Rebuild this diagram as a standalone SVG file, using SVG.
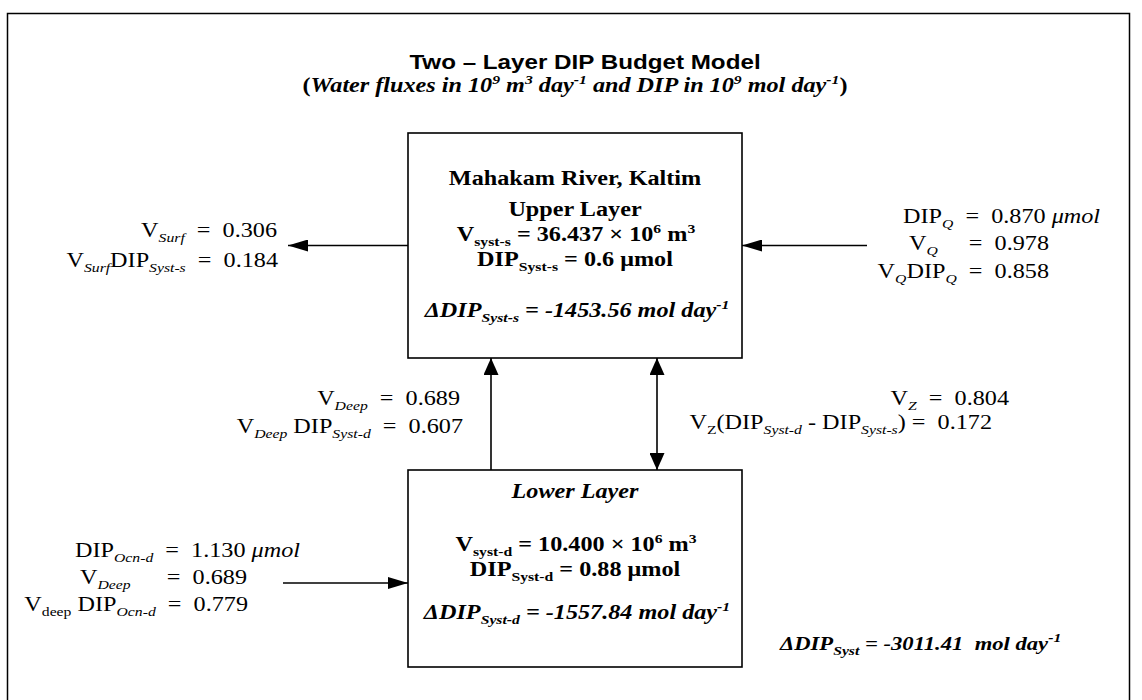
<svg xmlns="http://www.w3.org/2000/svg" width="1142" height="700" viewBox="0 0 1142 700">
<style>
text{font-family:"Liberation Serif","Times New Roman",serif;font-size:20px;fill:#000;white-space:pre}
.t{font-family:"Liberation Sans",Arial,sans-serif;font-weight:bold}
.b{font-weight:bold}
.bi{font-weight:bold;font-style:italic}
.i{font-style:italic}
.sb{font-size:13px;baseline-shift:-5px}
.sp{font-size:13px;baseline-shift:8px}
.box{fill:#fff;stroke:#000;stroke-width:1.6}
.ln{stroke:#000;stroke-width:1.6;fill:none}
</style>
<defs>
<marker id="ah" viewBox="0 0 20 12" refX="20" refY="6" markerWidth="20" markerHeight="12" markerUnits="userSpaceOnUse" orient="auto-start-reverse"><path d="M0,0 L20,6 L0,12 z" fill="#000"/></marker>
<marker id="av" viewBox="0 0 17 15" refX="17" refY="7.5" markerWidth="17" markerHeight="15" markerUnits="userSpaceOnUse" orient="auto-start-reverse"><path d="M0,0 L17,7.5 L0,15 z" fill="#000"/></marker>
</defs>
<rect x="0" y="0" width="1142" height="700" fill="#fff"/>
<rect x="7.5" y="13.5" width="1122" height="700" fill="none" stroke="#000" stroke-width="1.5"/>

<g id="title">
<text class="t" text-anchor="middle" transform="translate(585,69) scale(1.21,1)">Two – Layer DIP Budget Model</text>
<text class="b" text-anchor="middle" transform="translate(575,92) scale(1.21,1)">(<tspan class="i">Water fluxes in 10<tspan class="sp">9</tspan> m<tspan class="sp">3</tspan> day<tspan class="sp">-1</tspan> and DIP in 10<tspan class="sp">9</tspan> mol day<tspan class="sp">-1</tspan></tspan>)</text>
</g>

<g id="connectors">
<path class="ln" d="M408,245.5 L288,245.5" marker-end="url(#ah)"/>
<path class="ln" d="M867,245.5 L742,245.5" marker-end="url(#ah)"/>
<path class="ln" d="M491,470 L491,358" marker-end="url(#av)"/>
<path class="ln" d="M657,470 L657,358" marker-start="url(#av)" marker-end="url(#av)"/>
<path class="ln" d="M283,583 L408,583" marker-end="url(#ah)"/>
</g>

<g id="upper-layer">
<rect class="box" x="408" y="133" width="334" height="225"/>
<text class="b" text-anchor="middle" transform="translate(575,185) scale(1.21,1)">Mahakam River, Kaltim</text>
<text class="b" text-anchor="middle" transform="translate(575,216) scale(1.21,1)">Upper Layer</text>
<text class="b" text-anchor="middle" transform="translate(576,241) scale(1.21,1)">V<tspan class="sb">syst-s</tspan> = 36.437 × 10<tspan class="sp">6</tspan> m<tspan class="sp">3</tspan></text>
<text class="b" text-anchor="middle" transform="translate(575,266) scale(1.21,1)">DIP<tspan class="sb">Syst-s</tspan> = 0.6 μmol</text>
<text class="bi" text-anchor="middle" transform="translate(577,317) scale(1.21,1)">ΔDIP<tspan class="sb">Syst-s</tspan> = -1453.56 mol day<tspan class="sp">-1</tspan></text>
</g>

<g id="lower-layer">
<rect class="box" x="408" y="470" width="334" height="197"/>
<text class="bi" text-anchor="middle" transform="translate(575,498) scale(1.21,1)">Lower Layer</text>
<text class="b" text-anchor="middle" transform="translate(576,551) scale(1.21,1)">V<tspan class="sb">syst-d</tspan> = 10.400 × 10<tspan class="sp">6</tspan> m<tspan class="sp">3</tspan></text>
<text class="b" text-anchor="middle" transform="translate(575,576) scale(1.21,1)">DIP<tspan class="sb">Syst-d</tspan> = 0.88 μmol</text>
<text class="bi" text-anchor="middle" transform="translate(577,619) scale(1.21,1)">ΔDIP<tspan class="sb">Syst-d</tspan> = -1557.84 mol day<tspan class="sp">-1</tspan></text>
</g>

<g id="surface-outflow">
<text text-anchor="end" transform="translate(277,237) scale(1.21,1)">V<tspan class="sb i">Surf</tspan>  =  0.306</text>
<text text-anchor="end" transform="translate(278,267) scale(1.21,1)">V<tspan class="sb i">Surf</tspan>DIP<tspan class="sb i">Syst-s</tspan>  =  0.184</text>
</g>

<g id="river-inflow">
<text transform="translate(903,223) scale(1.21,1)">DIP<tspan class="sb i">Q</tspan>  =  0.870 <tspan class="i">μmol</tspan></text>
<text transform="translate(909,250) scale(1.21,1)">V<tspan class="sb i">Q</tspan></text>
<text text-anchor="end" transform="translate(1049,250) scale(1.21,1)">=  0.978</text>
<text text-anchor="end" transform="translate(1049,278) scale(1.21,1)">V<tspan class="sb i">Q</tspan>DIP<tspan class="sb i">Q</tspan>  =  0.858</text>
</g>

<g id="deep-flux">
<text text-anchor="end" transform="translate(460,405) scale(1.21,1)">V<tspan class="sb i">Deep</tspan>  =  0.689</text>
<text text-anchor="end" transform="translate(463,433) scale(1.21,1)">V<tspan class="sb i">Deep</tspan> DIP<tspan class="sb i">Syst-d</tspan>  =  0.607</text>
</g>

<g id="mixing-flux">
<text text-anchor="end" transform="translate(1009,405) scale(1.21,1)">V<tspan class="sb i">Z</tspan>  =  0.804</text>
<text text-anchor="end" transform="translate(992,429) scale(1.21,1)">V<tspan class="sb">Z</tspan>(DIP<tspan class="sb i">Syst-d</tspan> - DIP<tspan class="sb i">Syst-s</tspan>) =  0.172</text>
</g>

<g id="ocean-inflow">
<text text-anchor="end" transform="translate(300,557) scale(1.21,1)">DIP<tspan class="sb i">Ocn-d</tspan>  =  1.130 <tspan class="i">μmol</tspan></text>
<text transform="translate(80,584) scale(1.21,1)">V<tspan class="sb i">Deep</tspan></text>
<text text-anchor="end" transform="translate(247,584) scale(1.21,1)">=  0.689</text>
<text text-anchor="end" transform="translate(248,611) scale(1.21,1)">V<tspan class="sb">deep</tspan> DIP<tspan class="sb i">Ocn-d</tspan>  =  0.779</text>
</g>

<g id="system-total">
<text class="bi" style="font-size:18.7px" transform="translate(780,650) scale(1.21,1)">ΔDIP<tspan class="sb">Syst</tspan> = -3011.41  mol day<tspan class="sp">-1</tspan></text>
</g>
</svg>
